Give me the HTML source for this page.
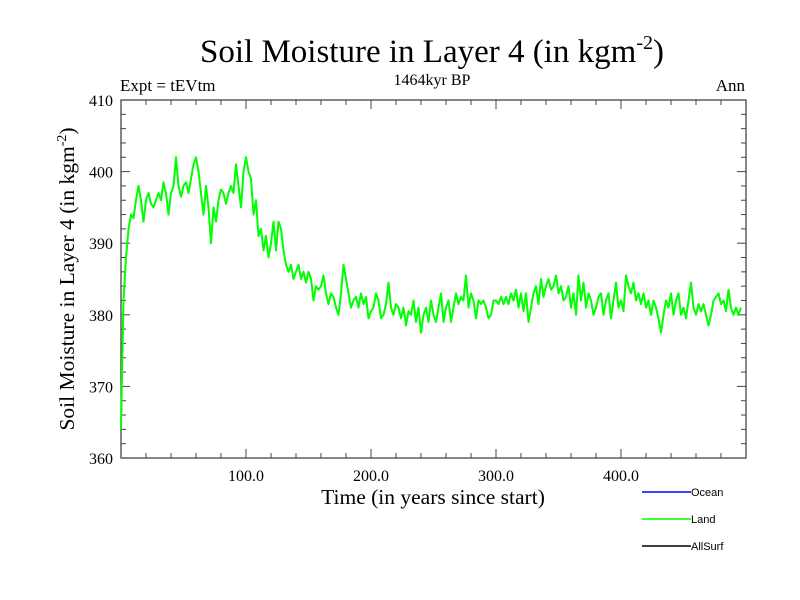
<!DOCTYPE html>
<html><head><meta charset="utf-8"><style>
body{margin:0;background:#fff;}
svg{display:block;font-family:"Liberation Serif",serif;}
.sans{font-family:"Liberation Sans",sans-serif;}
</style></head><body>
<svg id="chart" width="800" height="600" viewBox="0 0 800 600">
<rect width="800" height="600" fill="#fff"/>
<text x="432" y="62" text-anchor="middle" font-size="33">Soil Moisture in Layer 4 (in kgm<tspan dy="-13" font-size="20">-2</tspan><tspan dy="13">)</tspan></text>
<text x="432" y="85" text-anchor="middle" font-size="16">1464kyr BP</text>
<text x="120" y="91" font-size="17">Expt = tEVtm</text>
<text x="745" y="91" text-anchor="end" font-size="17">Ann</text>
<text transform="translate(74,279) rotate(-90)" text-anchor="middle" font-size="21.5">Soil Moisture in Layer 4 (in kgm<tspan dy="-8" font-size="14">-2</tspan><tspan dy="8">)</tspan></text>
<text x="433" y="504" text-anchor="middle" font-size="21.5">Time (in years since start)</text>
<g id="axes"></g>
<g id="series"></g>
<g id="legend" class="sans"></g>
</svg>
<script>
const years=[0,1,2,4,6,8,10,12,14,16,18,20,22,24,26,28,30,32,34,36,38,40,42,44,46,48,50,52,54,56,58,60,62,64,66,68,70,72,74,76,78,80,82,84,86,88,90,92,94,96,98,100,102,104,106,108,110,112,114,116,118,120,122,124,126,128,130,132,134,136,138,140,142,144,146,148,150,152,154,156,158,160,162,164,166,168,170,172,174,176,178,180,182,184,186,188,190,192,194,196,198,200,202,204,206,208,210,212,214,216,218,220,222,224,226,228,230,232,234,236,238,240,242,244,246,248,250,252,254,256,258,260,262,264,266,268,270,272,274,276,278,280,282,284,286,288,290,292,294,296,298,300,302,304,306,308,310,312,314,316,318,320,322,324,326,328,330,332,334,336,338,340,342,344,346,348,350,352,354,356,358,360,362,364,366,368,370,372,374,376,378,380,382,384,386,388,390,392,394,396,398,400,402,404,406,408,410,412,414,416,418,420,422,424,426,428,430,432,434,436,438,440,442,444,446,448,450,452,454,456,458,460,462,464,466,468,470,472,474,476,478,480,482,484,486,488,490,492,494,496];
const landValues=[364,374,382,388,392,394,393.5,396,398,396,393,396,397,395.5,395,396,397,396,398.5,397,394,397,398,402,398,396.5,398,398.5,397,399,401,402,400,397,394,398,395,390,395,393,396,397.5,397,395.5,397,398,397,401,398,395,400,402,400,399,394,396,391,392,389,391,388,390,393,389,393,392,389,387,386,387,385,386,387,385,386,384.5,386,385,382,384,383.5,384,385.5,383,381.5,383,382.5,381,380,383,387,385,383,381,382,382.5,381,383,381.5,382.5,379.5,380.5,381,383,382,379.5,380,381.5,384.5,381,380,381.5,381,379.5,381,378.5,380.5,380,382,379,381,377.5,380,381,379,382,380,379,381,383,379,381,382,379,381,383,381.5,382.5,382,385.5,381,383,382,379.5,382,381.5,382,381,379.5,380,382,382,381.5,382.5,381.5,382.5,381.5,383,382,383.5,381,383,380.5,383,379,381,383,384,381.5,385,382.5,384,385,383.5,384,385.5,383,384,382,382.5,384,381,383,380,385.5,382,384.5,381,383,382,380,381,382.5,383,380,382,383,379.5,382,384.5,381,382,380.5,385.5,384,383,384.5,382,383,381.5,383,381,382,380,382,381,379.5,377.5,380,382,381,383,380,382,383,380,381,379.5,382,384.5,381,380,381.5,380.5,381.5,380,378.5,380,382,382.5,383,381.5,382,380.5,383.5,381,380,381,380,381];
const xTicks=[100,200,300,400];
const xTickLabels=["100.0","200.0","300.0","400.0"];
const yTicks=[360,370,380,390,400,410];
const yTickLabels=["360","370","380","390","400","410"];
const legendLabels=["Ocean","Land","AllSurf"];
const legendColors=["#0000ff","#00ff00","#000000"];

const NS="http://www.w3.org/2000/svg";
const L=121,R=746,T=100,B=458,X0=0,X1=500,Y0=360,Y1=410;
const xs=v=>L+(v-X0)/(X1-X0)*(R-L);
const ys=v=>B-(v-Y0)/(Y1-Y0)*(B-T);
function mk(t,a,p){const e=document.createElementNS(NS,t);for(const k in a)e.setAttribute(k,a[k]);p.appendChild(e);return e;}
const ax=document.getElementById('axes');
const frame=mk('rect',{x:L,y:T,width:R-L,height:B-T,fill:'none',stroke:'#444','stroke-width':1.3},ax);


for(let v=X0+20;v<X1;v+=20){const x=xs(v);const len=(v%100===0)?9:5;
 mk('line',{x1:x,y1:B,x2:x,y2:B-len,stroke:'#444'},ax);mk('line',{x1:x,y1:T,x2:x,y2:T+len,stroke:'#444'},ax);}
for(let v=Y0+2;v<Y1;v+=2){const y=ys(v);const len=(v%10===0)?9:5;
 mk('line',{x1:L,y1:y,x2:L+len,y2:y,stroke:'#444'},ax);mk('line',{x1:R,y1:y,x2:R-len,y2:y,stroke:'#444'},ax);}
xTicks.forEach((v,i)=>{const t=mk('text',{x:xs(v),y:B+23,'text-anchor':'middle','font-size':16},ax);t.textContent=xTickLabels[i];
 
 });
yTicks.forEach((v,i)=>{const t=mk('text',{x:L-8,y:ys(v)+6,'text-anchor':'end','font-size':16},ax);t.textContent=yTickLabels[i];
 
 });
const sg=document.getElementById('series');
const pts=years.map((y,i)=>xs(y).toFixed(1)+','+ys(landValues[i]).toFixed(1)).join(' ');
const line=mk('polyline',{points:pts,fill:'none',stroke:'#00ff00','stroke-width':2,'stroke-linejoin':'round'},sg);


const lg=document.getElementById('legend');
legendLabels.forEach((lab,i)=>{const y=492+i*27;
 const l=mk('line',{x1:642,y1:y,x2:691,y2:y,stroke:legendColors[i],'stroke-width':1.5},lg);
 
 
 const t=mk('text',{x:691,y:y+4,'font-size':11},lg);t.textContent=lab;
 
 });
</script>
</body></html>
